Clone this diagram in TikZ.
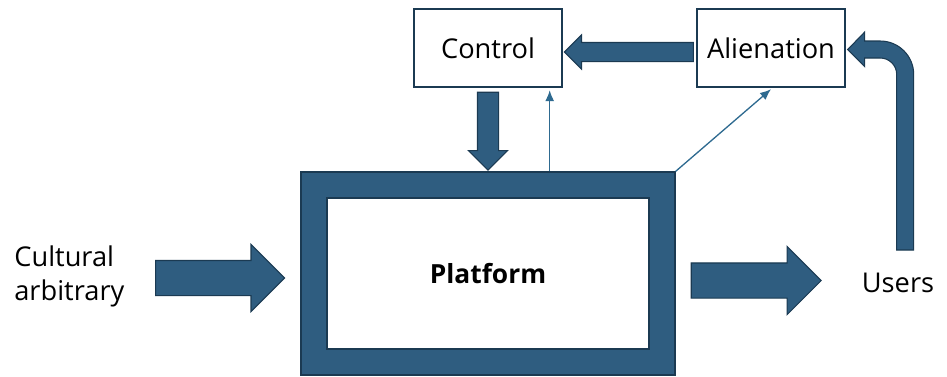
\documentclass[tikz,border=0pt]{standalone}
\usepackage{fontspec}
\setmainfont{Open Sans}
\usepackage{tikz}
\definecolor{ink}{HTML}{1B3A52}
\definecolor{navy}{HTML}{2F5D80}
\definecolor{linkblue}{HTML}{2E6A90}
\usetikzlibrary{
  arrows.meta,
  positioning,
  calc,
  shapes.arrows
}
\tikzset{
  >=Latex,
  every picture/.style={line cap=butt, line join=miter},
  every node/.style={font=\fontsize{15.5}{19.4}\selectfont, text=black},
  box/.style={
    draw=ink,
    fill=white,
    line width=0.8pt,
    minimum width=2.96cm,
    minimum height=1.56cm,
    inner sep=0pt
  },
  frame/.style={
    draw=ink,
    fill=navy,
    line width=0.8pt,
    minimum width=7.48cm,
    minimum height=4.06cm,
    inner sep=0pt
  },
  framein/.style={
    draw=ink,
    fill=white,
    line width=0.8pt,
    minimum width=6.44cm,
    minimum height=3.02cm,
    inner sep=0pt,
    font=\fontsize{15}{18}\selectfont\bfseries
  },
  % shaft half width goes in inner ysep, length in minimum height
  fatarrow/.style={
    single arrow,
    draw=ink,
    fill=navy,
    line width=0.6pt,
    inner xsep=0pt,
    single arrow tip angle=90
  },
  fatbend/.style={draw=ink, fill=navy, line width=0.6pt, line join=miter},
  thinarrow/.style={-{Latex[length=2.2mm, width=1.8mm]}, line width=0.75pt, draw=linkblue},
  annot/.style={inner sep=0pt, align=left}
}

\begin{document}
\begin{tikzpicture}
  \useasboundingbox (0,0) rectangle (18.94,7.52);

  % Nodes
  \node[frame] (platform) at (9.76,2.05) {};
  \node[framein] (core) at (platform.center) {Platform};
  \node[box] (control) at (9.76,6.56) {Control};
  \node[box] (alienation) at (15.42,6.56) {Alienation};
  \node[annot, anchor=west] (cultural) at (0.28,2.0) {Cultural\\arbitrary};
  \node[annot] (users) at (17.96,1.86) {Users};

  % Block arrows
  \node[fatarrow, anchor=tip, minimum height=2.58cm, inner ysep=0.34cm,
        single arrow head extend=0.32cm] (inflow)
        at ([xshift=-3mm, yshift=-0.9mm]platform.west) {};
  \node[fatarrow, anchor=tail, minimum height=2.60cm, inner ysep=0.34cm,
        single arrow head extend=0.33cm] (outflow)
        at ([xshift=3mm, yshift=-1.4mm]platform.east) {};
  \node[fatarrow, anchor=tip, minimum height=2.58cm, inner ysep=0.18cm,
        single arrow head extend=0.15cm, shape border rotate=180] (feedback)
        at ([xshift=0.2mm, yshift=-0.8mm]control.east) {};
  \node[fatarrow, anchor=tail, rotate=-90, minimum height=1.56cm, inner ysep=0.2cm,
        single arrow head extend=0.18cm] (steer)
        at ([yshift=-0.8mm]control.south) {};

  % Bent arrow from the users up into alienation
  \draw[fatbend] ([xshift=0.4mm,yshift=-0.3mm]alienation.east) -- ++(0.34,0.35) -- ++(0,-0.18)
    -- ++(0.31,0) arc[start angle=90, end angle=0, radius=0.67]
    -- ++(0,-3.51) -- ++(-0.34,0) -- ++(0,3.51)
    arc[start angle=0, end angle=90, radius=0.33]
    -- ++(-0.31,0) -- ++(0,-0.17) -- cycle;

  % Thin links
  \draw[thinarrow] ([xshift=-2.6mm]platform.north -| control.east)
    -- ([xshift=-2.6mm, yshift=-0.5mm]control.south east);
  \draw[thinarrow] (platform.north east) -- ([yshift=-0.3mm]alienation.south);
\end{tikzpicture}
\end{document}
